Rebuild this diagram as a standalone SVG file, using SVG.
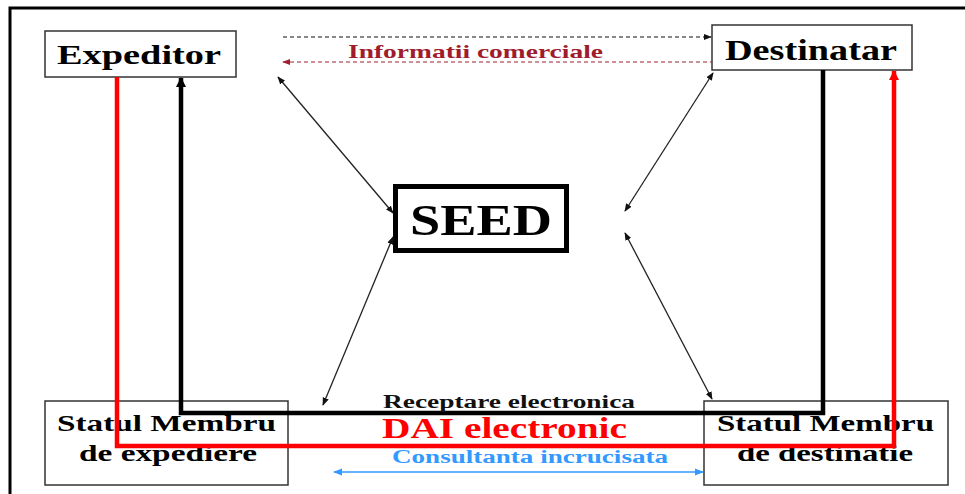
<svg xmlns="http://www.w3.org/2000/svg" width="965" height="494" viewBox="0 0 965 494">
<style>
text{font-family:"Liberation Serif","Times New Roman",serif;font-weight:bold;}
.box{fill:#fff;stroke:#333;stroke-width:1.5;}
.thin{fill:none;stroke:#222;stroke-width:1.3;}
</style>
<defs>
<marker id="ak" viewBox="0 0 10 10" refX="9" refY="5" markerWidth="8" markerHeight="8" markerUnits="userSpaceOnUse" orient="auto-start-reverse"><path d="M0,1 L10,5 L0,9 z" fill="#111"/></marker>
<marker id="akb" viewBox="0 0 10 10" refX="9" refY="5" markerWidth="10" markerHeight="10" markerUnits="userSpaceOnUse" orient="auto-start-reverse"><path d="M0,0 L10,5 L0,10 z" fill="#000"/></marker>
<marker id="ar" viewBox="0 0 10 10" refX="9" refY="5" markerWidth="10" markerHeight="10" markerUnits="userSpaceOnUse" orient="auto-start-reverse"><path d="M0,0 L10,5 L0,10 z" fill="#ff0000"/></marker>
<marker id="ad" viewBox="0 0 10 10" refX="9" refY="5" markerWidth="8" markerHeight="8" markerUnits="userSpaceOnUse" orient="auto-start-reverse"><path d="M0,1 L10,5 L0,9 z" fill="#a02030"/></marker>
<marker id="ab" viewBox="0 0 10 10" refX="9" refY="5" markerWidth="9" markerHeight="9" markerUnits="userSpaceOnUse" orient="auto-start-reverse"><path d="M0,1 L10,5 L0,9 z" fill="#3399ff"/></marker>
</defs>
<rect width="965" height="494" fill="#fff"/>
<path d="M10,494 V8 H965" fill="none" stroke="#000" stroke-width="3"/>

<g id="expeditor">
<rect class="box" x="45" y="31" width="191" height="46"/>
<text x="57" y="64" font-size="28" textLength="164" lengthAdjust="spacingAndGlyphs">Expeditor</text>
</g>
<g id="destinatar">
<rect class="box" x="712" y="25" width="200" height="45"/>
<text x="725" y="60" font-size="29" textLength="172" lengthAdjust="spacingAndGlyphs">Destinatar</text>
</g>
<g id="seed">
<rect x="395.5" y="186.5" width="171" height="64" fill="#fff" stroke="#000" stroke-width="5"/>
<text x="410" y="235" font-size="44" textLength="142" lengthAdjust="spacingAndGlyphs">SEED</text>
</g>
<g id="sm-expediere">
<rect class="box" x="45" y="401" width="243" height="84"/>
<text x="57" y="431" font-size="23" textLength="219" lengthAdjust="spacingAndGlyphs">Statul Membru</text>
<text x="79" y="461" font-size="23" textLength="178" lengthAdjust="spacingAndGlyphs">de expediere</text>
</g>
<g id="sm-destinatie">
<rect class="box" x="704" y="401" width="244" height="84"/>
<text x="717" y="431" font-size="23" textLength="217" lengthAdjust="spacingAndGlyphs">Statul Membru</text>
<text x="737" y="461" font-size="23" textLength="176" lengthAdjust="spacingAndGlyphs">de destinatie</text>
</g>

<g id="connectors">
<line x1="283" y1="37" x2="711" y2="37" stroke="#111" stroke-width="1.2" stroke-dasharray="4 3" marker-end="url(#ak)"/>
<line x1="283" y1="62" x2="712" y2="62" stroke="#a02030" stroke-width="1.2" stroke-dasharray="4 3" marker-start="url(#ad)"/>
<text x="348" y="58" font-size="19" fill="#a01c2c" textLength="255" lengthAdjust="spacingAndGlyphs">Informatii comerciale</text>

<line class="thin" x1="278" y1="77" x2="393" y2="213" marker-start="url(#ak)" marker-end="url(#ak)"/>
<line class="thin" x1="393" y1="237" x2="323" y2="405" marker-start="url(#ak)" marker-end="url(#ak)"/>
<line class="thin" x1="713" y1="73" x2="625" y2="211" marker-start="url(#ak)" marker-end="url(#ak)"/>
<line class="thin" x1="625" y1="233" x2="712" y2="399" marker-start="url(#ak)" marker-end="url(#ak)"/>

<path d="M823,70 V413 H181 V78" fill="none" stroke="#000" stroke-width="4.5" marker-end="url(#akb)"/>
<path d="M117,77 V446 H894 V71" fill="none" stroke="#ff0000" stroke-width="4.5" marker-end="url(#ar)"/>

<line x1="334" y1="472" x2="703" y2="472" stroke="#3399ff" stroke-width="1.5" marker-start="url(#ab)" marker-end="url(#ab)"/>

<text x="383" y="408" font-size="18" fill="#111" textLength="252" lengthAdjust="spacingAndGlyphs">Receptare electronica</text>
<text x="382" y="438" font-size="30" fill="#ff0000" textLength="245" lengthAdjust="spacingAndGlyphs">DAI electronic</text>
<text x="392" y="463" font-size="18" fill="#3399ff" textLength="276" lengthAdjust="spacingAndGlyphs">Consultanta incrucisata</text>
</g>
</svg>
